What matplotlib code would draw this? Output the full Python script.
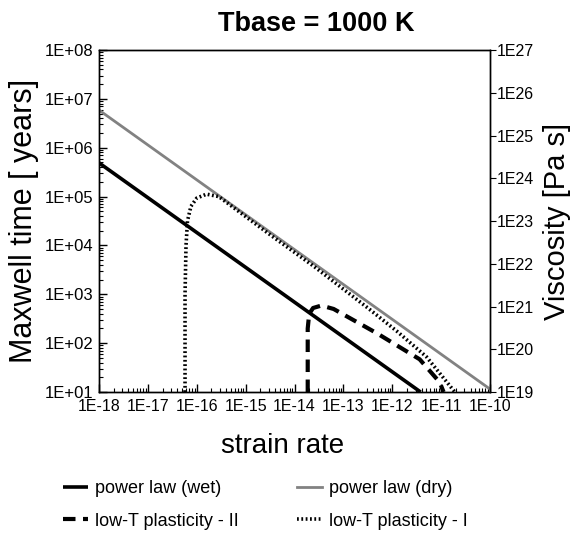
import matplotlib
matplotlib.use("Agg")
from matplotlib import pyplot as plt
from matplotlib.ticker import FixedLocator, LogLocator, NullFormatter, FuncFormatter
import numpy as np

plt.rcParams['font.family'] = ['Liberation Sans', 'DejaVu Sans']

# values, as log10(strain rate) and log10(Maxwell time)
wet_logx = [-18.0, -11.42]
wet_logy = [5.69, 1.0]

dry_logx = [-18.0, -10.0]
dry_logy = [6.77, 1.06]

plastI_logx = [-16.24, -16.24, -16.22, -16.19, -16.12, -16.0, -15.8, -15.55, -14.5, -13.6, -12.5, -11.9, -11.3, -10.72]
plastI_logy = [1.0, 3.0, 4.0, 4.5, 4.8, 4.97, 5.05, 5.0, 4.22, 3.57, 2.72, 2.24, 1.72, 1.0]

plastII_logx = [-13.73, -13.73, -13.7, -13.62, -13.45, -13.2, -12.31, -11.44, -11.03, -10.95]
plastII_logy = [1.0, 2.3, 2.6, 2.72, 2.77, 2.7, 2.2, 1.67, 1.2, 1.0]

fig = plt.figure(figsize=(5.74, 5.46), dpi=100)
ax = fig.add_axes([0.1725, 0.282, 0.6812, 0.6264])

l_wet, = ax.plot(10**np.array(wet_logx), 10**np.array(wet_logy), color="black", lw=2.6,
                 label="power law (wet)", solid_capstyle="butt")
l_dry, = ax.plot(10**np.array(dry_logx), 10**np.array(dry_logy), color="#828282", lw=2.0,
                 label="power law (dry)")
l_II, = ax.plot(10**np.array(plastII_logx), 10**np.array(plastII_logy), color="black", lw=3.0,
                linestyle=(0, (3, 1.8)), label="low-T plasticity - II")
l_I, = ax.plot(10**np.array(plastI_logx), 10**np.array(plastI_logy), color="black", lw=2.6,
               linestyle=(0, (0.5, 0.7)), label="low-T plasticity - I")

ax.set_xscale("log")
ax.set_yscale("log")
ax.set_xlim(1e-18, 1e-10)
ax.set_ylim(1e1, 1e8)

ax.xaxis.set_major_locator(FixedLocator([10.0**k for k in range(-18, -9)]))
ax.yaxis.set_major_locator(FixedLocator([10.0**k for k in range(1, 9)]))
ax.xaxis.set_minor_locator(LogLocator(base=10, subs=np.arange(2, 10), numticks=20))
ax.yaxis.set_minor_locator(LogLocator(base=10, subs=np.arange(2, 10), numticks=20))
ax.xaxis.set_minor_formatter(NullFormatter())
ax.yaxis.set_minor_formatter(NullFormatter())
ax.xaxis.set_major_formatter(FuncFormatter(lambda v, p: "1E%d" % round(np.log10(v))))
ax.yaxis.set_major_formatter(FuncFormatter(lambda v, p: "1E+%02d" % round(np.log10(v))))
ax.tick_params(which="both", direction="in", top=False, right=False)
ax.tick_params(axis="x", labelsize=11.5, pad=5)
ax.tick_params(axis="y", labelsize=12, pad=4)
ax.tick_params(which="major", length=6, width=1)
ax.tick_params(which="minor", length=3, width=0.8)

ax.set_xlabel("strain rate", fontsize=20, labelpad=14)
ax.xaxis.label.set_x(0.47)
ax.set_ylabel("Maxwell time [ years]", fontsize=22, labelpad=4)
ax.set_title("Tbase = 1000 K", fontsize=19.5, fontweight="bold", pad=14, x=0.555)

# viscosity axis on the right
ax2 = ax.twinx()
ax2.set_yscale("log")
ax2.set_ylim(1e19, 1e27)
ax2.yaxis.set_major_locator(FixedLocator([10.0**k for k in range(19, 28)]))
ax2.yaxis.set_minor_locator(FixedLocator([]))
ax2.yaxis.set_major_formatter(FuncFormatter(lambda v, p: "1E%d" % round(np.log10(v))))
ax2.tick_params(which="major", direction="out", length=4, labelsize=11.5, pad=1)
ax2.set_ylabel("Viscosity [Pa s]", fontsize=21, labelpad=6)

for a in (ax, ax2):
    for s in a.spines.values():
        s.set_linewidth(1.0)

# legend columns fill first, so order gives rows wet|dry and II|I
fig.legend([l_wet, l_II, l_dry, l_I],
           [l.get_label() for l in (l_wet, l_II, l_dry, l_I)],
           loc="lower center", bbox_to_anchor=(0.462, 0.0), ncol=2, frameon=False,
           fontsize=13, handlelength=1.4, handletextpad=0.4, columnspacing=3.2,
           labelspacing=0.85)

fig.savefig("out.png", dpi=100)
